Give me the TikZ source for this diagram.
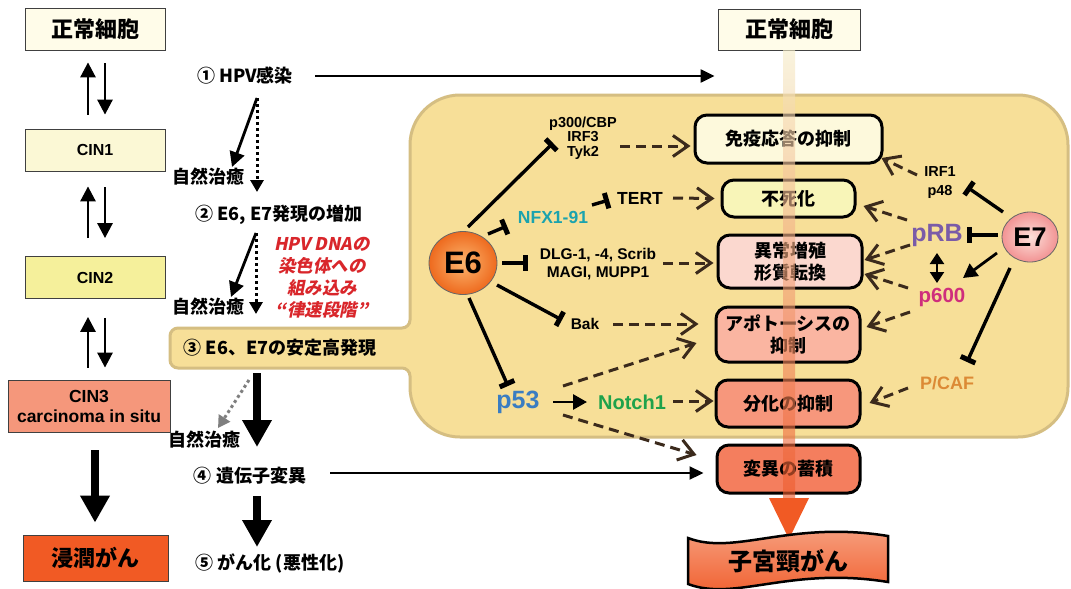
\documentclass[tikz,border=0pt]{standalone}
\usepackage{fontspec}
\setmainfont{Liberation Sans}
\newfontfamily\jp{Noto Sans CJK JP}
\newfontfamily\jpit{Noto Sans CJK JP}[FakeSlant=0.2]
\usetikzlibrary{arrows.meta,shapes.geometric,calc}
\newcommand\fsz[2]{\fontsize{#1}{#2}\selectfont}
\definecolor{cream}{HTML}{FFFCE9}
\definecolor{cinA}{HTML}{FBF8D5}
\definecolor{cinB}{HTML}{F5F09B}
\definecolor{cinC}{HTML}{F5977B}
\definecolor{invc}{HTML}{F15A24}
\definecolor{panelc}{HTML}{F7DF98}
\definecolor{paneld}{HTML}{D5BE82}
\definecolor{bA}{HTML}{FDF9DC}
\definecolor{bB}{HTML}{F8F5B8}
\definecolor{bC}{HTML}{FBD8CF}
\definecolor{bD}{HTML}{FAB5A1}
\definecolor{bE}{HTML}{F7977C}
\definecolor{bF}{HTML}{F47E5E}
\definecolor{brn}{HTML}{3B2A1C}
\definecolor{redt}{HTML}{D9262B}
\definecolor{nfxc}{HTML}{1BA3AE}
\definecolor{pfiftyc}{HTML}{3A7DC2}
\definecolor{notchc}{HTML}{1EA24B}
\definecolor{prbc}{HTML}{7A5BA8}
\definecolor{psixc}{HTML}{CF2E7C}
\definecolor{pcafc}{HTML}{DC8A35}
\definecolor{grc}{HTML}{7F7F7F}
\definecolor{barT}{HTML}{F6EDC8}
\definecolor{barB}{HTML}{EE5A2C}
\definecolor{wavT}{HTML}{F7A586}
\definecolor{wavB}{HTML}{F05A28}
\definecolor{esixin}{HTML}{FBB56E}
\definecolor{esixout}{HTML}{EE6A1E}
\definecolor{esevin}{HTML}{FCE0DA}
\definecolor{esevout}{HTML}{F29393}
\tikzset{
 txt/.style={inner sep=0pt, align=center, font=\bfseries},
 lbox/.style={draw=black!75, line width=0.8pt, inner sep=0pt, align=center},
 rbox/.style={draw=black, line width=3pt, rounded corners=12pt, inner sep=0pt, align=center, font=\jp\bfseries\fsz{18}{22}},
 mid/.style={inner sep=0pt, align=center, font=\jp\bfseries\fsz{18}{18}},
 darr/.style={draw=brn, line width=3pt, dash pattern=on 10pt off 6pt, -{Straight Barb[length=15pt,width=21pt,line width=3pt]}},
 inh/.style={line width=3.4pt, -{Rectangle[length=5pt,width=16pt]}},
 sarr/.style={line width=2.8pt, -{Triangle[length=15pt,width=15pt]}},
 smallarr/.style={line width=2.8pt, -{Triangle[length=14pt,width=15pt]}},
 longarr/.style={line width=2.2pt, -{Triangle[length=14pt,width=13pt]}},
 bigarr/.style={line width=8pt, -{Triangle[length=27pt,width=28pt]}},
 dotarr/.style={line width=3pt, dash pattern=on 3pt off 3pt, -{Triangle[length=12pt,width=13pt]}},
}
\begin{document}
\begin{tikzpicture}[x=1pt,y=-1pt]
\useasboundingbox (0,0) rectangle (1071,589);
\fill[white] (0,0) rectangle (1071,589);

% panel with tab
\path[fill=panelc, draw=paneld, line width=3pt] (410,250) [rounded corners=50pt] -- (410,95) -- (1068,95) -- (1068,437) -- (410,437) [rounded corners=8pt] -- (410,368) -- (170,368) -- (170,328) -- (410,328) [rounded corners=50pt] -- cycle;

% left column
\node[lbox, fill=cream, minimum width=140pt, minimum height=42pt, font=\jp\bfseries\fsz{22}{22}] (n0) at (95,29) {正常細胞};
\node[lbox, fill=cinA, minimum width=140pt, minimum height=42pt, font=\bfseries\fsz{16}{16}] (cin1) at (95,150) {CIN1};
\node[lbox, fill=cinB, minimum width=140pt, minimum height=42pt, font=\bfseries\fsz{16}{16}] (cin2) at (95,277.5) {CIN2};
\node[lbox, fill=cinC, minimum width=162pt, minimum height=52pt, font=\bfseries\fsz{17.5}{20}] (cin3) at (89,406) {CIN3\\carcinoma in situ};
\node[lbox, fill=invc, minimum width=145pt, minimum height=46pt, font=\jp\bfseries\fsz{22}{22}] (inv) at (95.5,558) {浸潤がん};

\draw[sarr] ($(cin1.north)+(-7,-14)$) -- ($(n0.south)+(-7,12)$);
\draw[sarr] ($(n0.south)+(10,13)$) -- ($(cin1.north)+(10,-14)$);
\draw[sarr] ($(cin2.north)+(-7,-18)$) -- ($(cin1.south)+(-7,15)$);
\draw[sarr] ($(cin1.south)+(10,16)$) -- ($(cin2.north)+(10,-18)$);
\draw[sarr] ($(cin3.north)+(-1,-12)$) -- ($(cin2.south)+(-7,18)$);
\draw[sarr] ($(cin2.south)+(10,19)$) -- ($(cin3.north)+(16,-12)$);
\draw[bigarr] ($(cin3.south)+(6,18)$) -- ($(inv.north)+(-0.5,-12)$);

% right column boxes
\node[lbox, fill=cream, minimum width=142pt, minimum height=41pt, font=\jp\bfseries\fsz{22}{22}] (n0r) at (789,29.5) {正常細胞};
\node[rbox, fill=bA, minimum width=187pt, minimum height=48pt] (b1) at (788.5,139) {免疫応答の抑制};
\node[rbox, fill=bB, minimum width=133pt, minimum height=37pt] (b2) at (788.5,198.5) {不死化};
\node[rbox, fill=bC, minimum width=144pt, minimum height=53pt] (b3) at (790,261.5) {異常増殖\\形質転換};
\node[rbox, fill=bD, minimum width=144pt, minimum height=55pt] (b4) at (788,334.5) {アポトーシスの\\抑制};
\node[rbox, fill=bE, minimum width=144pt, minimum height=47pt] (b5) at (788,403.5) {分化の抑制};
\node[rbox, fill=bF, minimum width=143pt, minimum height=48pt] (b6) at (788.5,469) {変異の蓄積};

% gradient bar and arrowhead
\shade[top color=barT, bottom color=barB, opacity=0.62] (783,50) rectangle (795,499);
\fill[invc] (769,498) -- (809,498) -- (789,539) -- cycle;

% wavy final box
\path[draw=black, line width=2.5pt, top color=wavT, bottom color=wavB] (688,538) .. controls (735,556) and (790,520) .. (888,536) -- (888,582) .. controls (790,566) and (735,602) .. (688,584) -- cycle;
\node[inner sep=0pt, font=\jp\bfseries\fsz{24}{24}] (cancer) at (788,561) {子宮頸がん};

% middle column
\node[mid] (s1) at (245,76) {① HPV感染};
\node[mid] (heal1) at (208,177) {自然治癒};
\node[mid] (s2) at (279,215) {② E6, E7発現の増加};
\node[mid] (heal2) at (208,307) {自然治癒};
\node[inner sep=0pt, align=center, text=redt, font=\jpit\bfseries\fsz{17.5}{22}] (rate) at (322,278) {HPV DNAの\\染色体への\\組み込み\\“律速段階”};
\node[mid] (s3) at (280,348) {③ E6、E7の安定高発現};
\node[mid] (heal3) at (204,440) {自然治癒};
\node[mid] (s4) at (250,476) {④ 遺伝子変異};
\node[mid] (s5) at (270,563) {⑤ がん化 (悪性化)};

\coordinate (f1) at ($(s1)+(12,22)$);
\draw[sarr] (f1) -- ($(heal1)+(24,-10)$);
\draw[dotarr] (f1) -- ($(heal1)+(49,15)$);
\coordinate (f2) at ($(s2)+(-23,18)$);
\draw[sarr] (f2) -- ($(heal2)+(23,-10)$);
\draw[dotarr] (f2) -- ($(heal2)+(48,7)$);
\draw[bigarr] ($(s3)+(-23,25)$) -- ($(s4)+(7,-29)$);
\draw[dotarr, grc] ($(s3)+(-31,32)$) -- ($(heal3)+(14,-12)$);
\draw[bigarr] ($(s4)+(7,20)$) -- ($(s5)+(-13,-16)$);
\draw[longarr] ($(s1)+(70,0)$) -- ($(n0r.west |- s1)+(-3,0)$);
\draw[longarr] ($(s4)+(80,-3)$) -- ($(b6.west)+(-12,4)$);

% panel contents
\node[ellipse, draw=black!60, line width=0.8pt, minimum width=68pt, minimum height=63pt, inner color=esixin, outer color=esixout, font=\bfseries\fsz{31}{31}] (e6) at (463,263) {E6};
\node[ellipse, draw=black!60, line width=0.8pt, minimum width=56pt, minimum height=50pt, inner color=esevin, outer color=esevout, font=\bfseries\fsz{27}{27}] (e7) at (1030,237) {E7};

\node[txt, font=\bfseries\fsz{14.5}{14.5}] (p300) at (583,138) {p300/CBP\\IRF3\\Tyk2};
\node[txt, text=nfxc, font=\bfseries\fsz{17.5}{17.5}] (nfx) at (553,217) {NFX1-91};
\node[txt, font=\bfseries\fsz{17.5}{17.5}] (tert) at (640,198) {TERT};
\node[txt, font=\bfseries\fsz{15.5}{18}] (dlg) at (598,264) {DLG-1, -4, Scrib\\MAGI, MUPP1};
\node[txt, font=\bfseries\fsz{15.5}{15.5}] (bak) at (585,324) {Bak};
\node[txt, text=pfiftyc, font=\bfseries\fsz{25}{25}] (p53) at (518,402) {p53};
\node[txt, text=notchc, font=\bfseries\fsz{20}{20}] (notch) at (632,402) {Notch1};
\node[txt, font=\bfseries\fsz{14.5}{19}] (irf) at (940,183) {IRF1\\p48};
\node[txt, text=prbc, font=\bfseries\fsz{25}{25}] (prb) at (937,235) {pRB};
\node[txt, text=psixc, font=\bfseries\fsz{20.5}{20.5}] (p600) at (942,297) {p600};
\node[txt, text=pcafc, font=\bfseries\fsz{18}{18}] (pcaf) at (947,383) {P/CAF};

% E6 connectors
\draw[inh] ($(e6)+(5,-36)$) -- ($(p300)+(-30,5)$);
\draw[darr] ($(p300)+(37,8)$) -- ($(b1.west)+(-3,7)$);
\draw[inh] ($(e6)+(25,-29)$) -- ($(nfx)+(-46,9)$);
\draw[inh] ($(nfx)+(39,-12)$) -- ($(tert)+(-31,2)$);
\draw[darr] ($(tert)+(33,0)$) -- ($(b2.west)+(-6,0)$);
\draw[inh] ($(e6)+(39,0)$) -- ($(dlg)+(-70,-1)$);
\draw[darr] ($(dlg)+(65,-1)$) -- ($(b3.west)+(-3,1.5)$);
\draw[inh] ($(e6)+(34,22)$) -- ($(bak)+(-23,-4)$);
\draw[darr] ($(bak)+(28,0)$) -- ($(b4.west)+(-16,-10.5)$);
\draw[inh] ($(e6)+(6,35)$) -- ($(p53)+(-10,-16)$);
\draw[smallarr] ($(p53)+(35,0)$) -- ($(notch)+(-45,0)$);
\draw[darr] ($(notch)+(41,-1)$) -- ($(b5.west)+(-1,-2.5)$);
\draw[darr] ($(p53)+(45,-16)$) -- ($(b4.west)+(-18,8.5)$);
\draw[darr] ($(p53)+(45,13)$) -- ($(b6.west)+(-19,-14)$);

% E7 connectors
\draw[inh] ($(e7)+(-27,-25)$) -- ($(irf)+(27,4)$);
\draw[darr] ($(irf)+(-23,-8)$) -- ($(b1.east)+(-2,19)$);
\draw[inh] ($(e7)+(-32,-2)$) -- ($(prb)+(30,0)$);
\draw[darr] ($(prb)+(-30,-15)$) -- ($(b2.east)+(7,7.5)$);
\draw[darr] ($(prb)+(-27,10)$) -- ($(b3.east)+(1,-1.5)$);
\draw[line width=2pt, {Triangle[length=11pt,width=14pt]}-{Triangle[length=11pt,width=14pt]}] ($(prb)+(0,18)$) -- ($(p600)+(-5,-14)$);
\draw[smallarr] ($(e7)+(-33,16)$) -- ($(p600)+(21,-19)$);
\draw[darr] ($(p600)+(-34,-9)$) -- ($(b3.east)+(1,12.5)$);
\draw[darr] ($(p600)+(-32,15)$) -- ($(b4.east)+(5,-7.5)$);
\draw[inh] ($(e7)+(-20,31)$) -- ($(pcaf)+(20,-21)$);
\draw[darr] ($(pcaf)+(-39,5)$) -- ($(b5.east)+(8,-0.5)$);
\end{tikzpicture}
\end{document}
